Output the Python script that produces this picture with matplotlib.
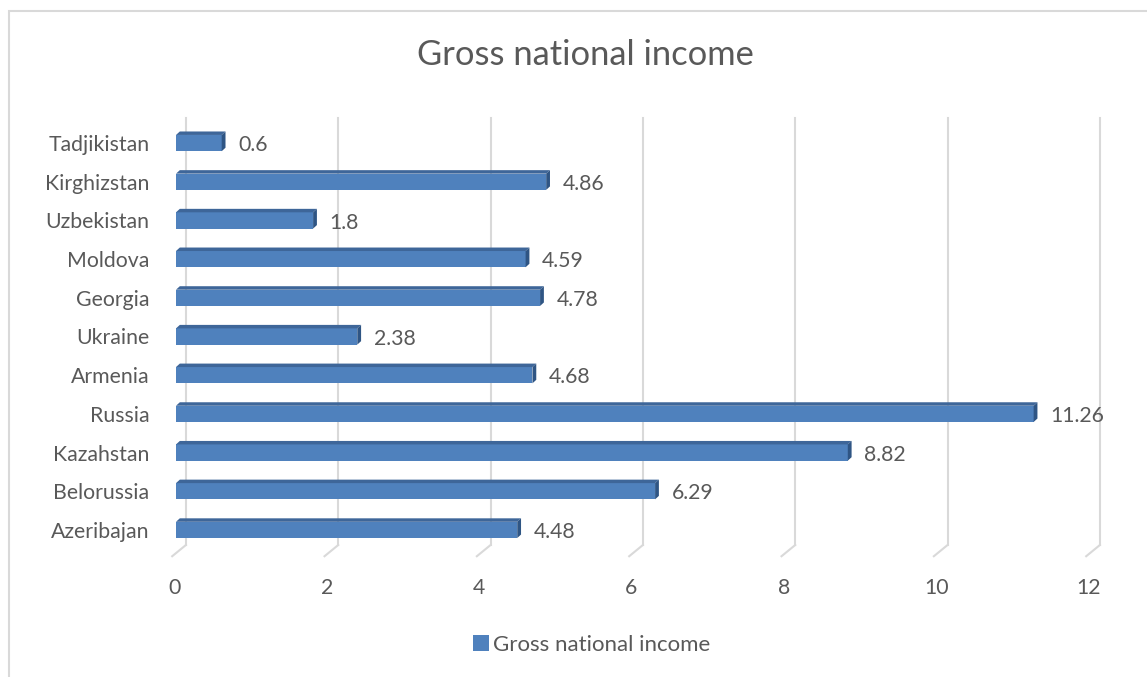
import matplotlib.pyplot as plt
from matplotlib.patches import Polygon, Rectangle, Patch

# data (bottom to top)
countries = ["Azeribajan", "Belorussia", "Kazahstan", "Russia", "Armenia", "Ukraine",
             "Georgia", "Moldova", "Uzbekistan", "Kirghizstan", "Tadjikistan"]
income = [4.48, 6.29, 8.82, 11.26, 4.68, 2.38, 4.78, 4.59, 1.8, 4.86, 0.6]
ticks = [0, 2, 4, 6, 8, 10, 12]

text_col = "#595959"
grid_col = "#d9d9d9"
front_col = "#4f81bd"
top_col = "#3e6699"
side_col = "#2f5584"

plt.rcParams["font.family"] = ["Lato", "DejaVu Sans"]
fs = 15.3

fig = plt.figure(figsize=(11.47, 6.77), dpi=100)
ax = fig.add_axes([176 / 1147, 120 / 677, 914 / 1147, 441 / 677])
ax.set_xlim(0, 12)
ax.set_ylim(-0.7, 10.7)
for s in ax.spines.values():
    s.set_visible(False)

# chart border
fig.patches.append(Rectangle((9 / 1147, -0.01), 1.2, 1 - 11 / 677 + 0.01,
                             transform=fig.transFigure, fill=False,
                             edgecolor=grid_col, linewidth=1.5))

# gridlines on back wall + slanted floor ticks
dxg = 0.13
for t in ticks:
    ax.plot([t + dxg, t + dxg], [10.65, -0.39], color=grid_col, lw=1.5, zorder=1, clip_on=False)
    ax.plot([t + dxg, t - 0.05], [-0.39, -0.68], color=grid_col, lw=1.5, zorder=1, clip_on=False)
    ax.text(t - 0.02, -1.5, str(t), ha="center", va="center", fontsize=fs, color=text_col)

# 3D-ish bars
h = 0.42
dx = 0.05
dy = 0.09
for i, v in enumerate(income):
    y0 = i - h / 2
    y1 = i + h / 2
    ax.add_patch(Rectangle((0, y0), v, h, facecolor=front_col, edgecolor="none", zorder=3))
    ax.add_patch(Polygon([(0, y1), (v, y1), (v + dx, y1 + dy), (dx, y1 + dy)],
                         closed=True, facecolor=top_col, edgecolor="none", zorder=3))
    ax.add_patch(Polygon([(v, y0), (v, y1), (v + dx, y1 + dy), (v + dx, y0 + dy)],
                         closed=True, facecolor=side_col, edgecolor="none", zorder=3))
    ax.annotate(f"{v:g}", (v, i), xytext=(12, -1.5), textcoords="offset points",
                ha="left", va="center", fontsize=fs, color=text_col)

ax.set_xticks([])
ax.set_yticks(range(len(countries)))
ax.set_yticklabels(countries, fontsize=fs, color=text_col)
ax.tick_params(axis="y", length=0, pad=19)

fig.text(585 / 1147, 1 - 55 / 677, "Gross national income", ha="center", va="center",
         fontsize=24.8, color=text_col)

fig.legend(handles=[Patch(facecolor=front_col, label="Gross national income")],
           loc="center", bbox_to_anchor=(592 / 1147, 1 - 645 / 677), frameon=False,
           fontsize=16, labelcolor=text_col, handlelength=0.7, handleheight=0.7,
           handletextpad=0.2)

fig.savefig("out.png", dpi=100)
